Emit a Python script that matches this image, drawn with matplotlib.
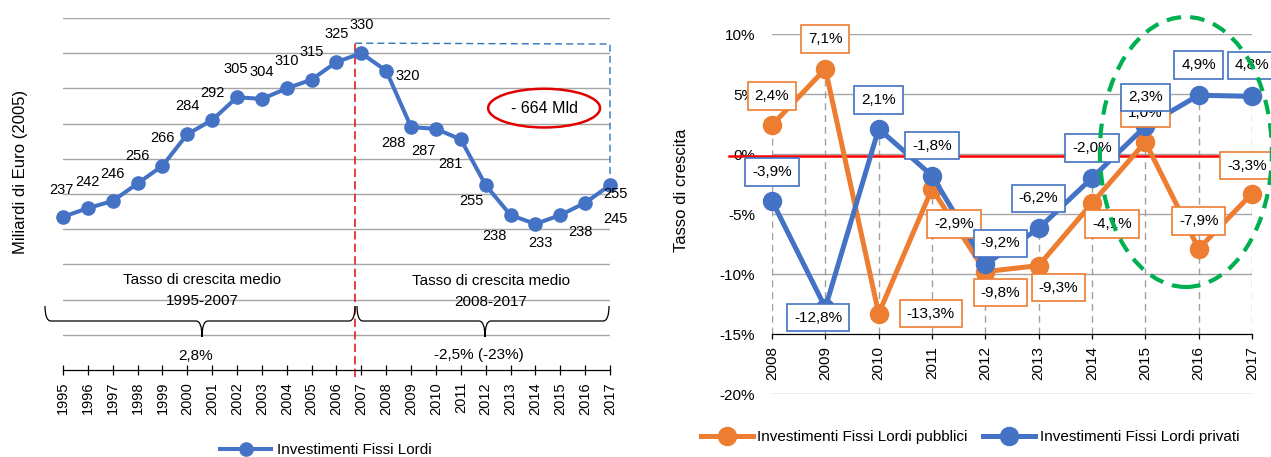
import matplotlib
matplotlib.use('Agg')
import matplotlib.pyplot as plt
from matplotlib.patches import Ellipse, PathPatch
from matplotlib.path import Path
from matplotlib.lines import Line2D
from matplotlib import font_manager

names = {f.name for f in font_manager.fontManager.ttflist}
FONT = 'Liberation Sans' if 'Liberation Sans' in names else 'DejaVu Sans'
plt.rcParams['font.family'] = [FONT, 'DejaVu Sans']
if 'Liberation Sans Narrow' in names:
    NARROW = ['Liberation Sans Narrow', FONT, 'DejaVu Sans']
    K = 1.2
else:
    NARROW = [FONT, 'DejaVu Sans']
    K = 1.0

# ---------------- data ----------------
years_left = list(range(1995, 2018))
investimenti = [237, 242, 246, 256, 266, 284, 292, 305, 304, 310, 315, 325, 330,
                320, 288, 287, 281, 255, 238, 233, 238, 245, 255]
years_right = list(range(2008, 2018))
pubblici = [2.4, 7.1, -13.3, -2.9, -9.8, -9.3, -4.1, 1.0, -7.9, -3.3]
privati = [-3.9, -12.8, 2.1, -1.8, -9.2, -6.2, -2.0, 2.3, 4.9, 4.8]
yticks_right = [10, 5, 0, -5, -10, -15, -20]
ytick_labels_right = ['10%', '5%', '0%', '-5%', '-10%', '-15%', '-20%']
label_left = 'Investimenti Fissi Lordi'
label_pub = 'Investimenti Fissi Lordi pubblici'
label_priv = 'Investimenti Fissi Lordi privati'

# ---------------- layout (label offsets in pixels, image y down) -------------
off_left = [(-2, -27), (0, -26), (0, -27), (0, -27), (0, -28), (0, -28), (0, -27),
            (-1, -28), (0, -27), (0, -27), (0, -28), (0, -28), (0, -28),
            (21, 5), (-18, 16), (-13, 22), (-10, 25), (-14, 16), (-16, 21),
            (5, 19), (20, 17), (30, 16), (5, 9)]
off_pub = [(0, -29), (0, -30), (52, 0), (22, 35), (15, 21), (20, 22), (20, 21),
           (0, -29), (0, -28), (-5, -28)]
off_priv = [(0, -29), (-7, 10), (0, -29), (0, -30), (15, -21), (0, -30), (0, -30),
            (0, -29), (0, -30), (0, -31)]

BLUE = '#4472C4'
ORANGE = '#ED7D31'
GRID = '#a6a6a6'

W, H = 1271, 457
fig = plt.figure(figsize=(W / 100, H / 100), dpi=100)


def fmt_pct(v):
    return ('%.1f%%' % v).replace('.', ',')


# ================= LEFT CHART =================
axL = fig.add_axes([63 / W, 1 - 370 / H, 547 / W, 352 / H])
axL.set_xlim(1995, 2017)
axL.set_ylim(150, 350)
for v in range(170, 351, 20):
    axL.axhline(v, color=GRID, lw=1.0, zorder=0)
axL.plot(years_left, investimenti, color=BLUE, lw=2.9, marker='o', ms=9.5,
         zorder=3, clip_on=False)
for sp in ['left', 'top', 'right']:
    axL.spines[sp].set_visible(False)
axL.spines['bottom'].set_color('black')
axL.spines['bottom'].set_linewidth(0.9)
axL.set_yticks([])
axL.set_xticks(years_left)
axL.set_xticklabels([str(y) for y in years_left], rotation=90,
                    fontsize=10.5 * K, family=NARROW)
axL.tick_params(axis='x', direction='inout', length=7.2, width=0.9, pad=5)

for x, v, (dx, dy) in zip(years_left, investimenti, off_left):
    axL.annotate(str(v), (x, v), xytext=(dx, -dy), textcoords='offset pixels',
                 ha='center', va='center', fontsize=10.5 * K, family=NARROW,
                 zorder=5)

# red dashed divider and blue dashed bracket
axL.plot([2006.75, 2006.75], [146, 335.7], color='#e02020', lw=1.2,
         ls=(0, (5, 2.5)), clip_on=False, zorder=2)
axL.plot([2006.75, 2017, 2017], [335.7, 335.2, 259], color='#2e75b6', lw=1.0,
         ls=(0, (5, 3)), clip_on=False, zorder=2)
axL.add_patch(Ellipse((2014.35, 298.8), 4.5, 22, fill=False, ec='#e00000',
                      lw=1.8, zorder=4))
axL.text(2014.35, 298.8, '- 664 Mld', ha='center', va='center', fontsize=11.5,
         zorder=5)

# ================= RIGHT CHART =================
axR = fig.add_axes([772 / W, 1 - 394 / H, 480 / W, 360 / H])
axR.set_xlim(2008, 2017)
axR.set_ylim(-20, 10)
for v in [10, 5, 0, -5, -10, -20]:
    axR.axhline(v, color=GRID, lw=1.0, zorder=0)
for sp in ['left', 'top', 'right']:
    axR.spines[sp].set_visible(False)
axR.spines['bottom'].set_position(('data', -15))
axR.spines['bottom'].set_color('black')
axR.spines['bottom'].set_linewidth(0.9)
axR.set_xticks(years_right)
axR.set_xticklabels([str(y) for y in years_right], rotation=90,
                    fontsize=11 * K, family=NARROW)
axR.tick_params(axis='x', direction='out', length=3.5, width=0.9, pad=5)
axR.set_yticks(yticks_right)
axR.set_yticklabels(ytick_labels_right, fontsize=11 * K, family=NARROW)
axR.tick_params(axis='y', length=0, pad=12)

tops = [max(a, b) for a, b in zip(pubblici, privati)]
axR.vlines(years_right, -15, tops, colors='#a0a0a0', lw=1.0,
           linestyles=(0, (5, 3.5)), zorder=1)
axR.plot([2007.19, 2017.09], [-0.15, -0.15], color='#ff0000', lw=1.8,
         clip_on=False, zorder=2)

axR.plot(years_right, pubblici, color=ORANGE, lw=3.6, marker='o', ms=13,
         zorder=3, clip_on=False)
axR.plot(years_right, privati, color=BLUE, lw=3.6, marker='o', ms=13,
         zorder=4, clip_on=False)

pad = 0.45 / K
for x, v, (dx, dy) in zip(years_right, pubblici, off_pub):
    axR.annotate(fmt_pct(v), (x, v), xytext=(dx, -dy), textcoords='offset pixels',
                 ha='center', va='center', fontsize=11 * K, family=NARROW,
                 zorder=5,
                 bbox=dict(boxstyle='square,pad=%.3f' % pad, fc='white',
                           ec=ORANGE, lw=1.2))
for x, v, (dx, dy) in zip(years_right, privati, off_priv):
    axR.annotate(fmt_pct(v), (x, v), xytext=(dx, -dy), textcoords='offset pixels',
                 ha='center', va='center', fontsize=11 * K, family=NARROW,
                 zorder=6,
                 bbox=dict(boxstyle='square,pad=%.3f' % pad, fc='white',
                           ec=BLUE, lw=1.2))

axR.add_patch(Ellipse((2015.76, 0.17), 3.225, 22.5, fill=False, ec='#00b050',
                      lw=3.0, ls=(0, (3.5, 2.2)), zorder=7, clip_on=False))

# ================= overlay (pixel coords) for annotations =================
ov = fig.add_axes([0, 0, 1, 1], zorder=10)
ov.set_xlim(0, W)
ov.set_ylim(H, 0)
ov.axis('off')
ov.patch.set_alpha(0)


def brace(x0, x1, xt, ytop, ymid, ytip, r=6):
    verts = [(x0, ytop), (x0, ymid), (x0 + r, ymid),
             (xt - r, ymid), (xt, ymid), (xt, ytip),
             (xt, ymid), (xt + r, ymid),
             (x1 - r, ymid), (x1, ymid), (x1, ytop)]
    codes = [Path.MOVETO, Path.CURVE3, Path.CURVE3,
             Path.LINETO, Path.CURVE3, Path.CURVE3,
             Path.CURVE3, Path.CURVE3,
             Path.LINETO, Path.CURVE3, Path.CURVE3]
    ov.add_patch(PathPatch(Path(verts, codes), fill=False, ec='black', lw=0.9))


brace(45, 355, 202, 306, 321, 337)
brace(357, 609, 485, 306, 321, 337)

tk = dict(ha='center', va='center', fontsize=11 * K, family=NARROW)
ov.text(202, 280, 'Tasso di crescita medio', **tk)
ov.text(202, 301, '1995-2007', **tk)
ov.text(491, 281, 'Tasso di crescita medio', **tk)
ov.text(491, 302, '2008-2017', **tk)
ov.text(196, 356, '2,8%', **tk)
ov.text(479, 355, '-2,5% (-23%)', **tk)

fig.text(21 / W, 1 - 172 / H, 'Miliardi di Euro (2005)', rotation=90,
         ha='center', va='center', fontsize=12)
fig.text(681 / W, 1 - 190 / H, 'Tasso di crescita', rotation=90,
         ha='center', va='center', fontsize=12)

# legends
hL = [Line2D([], [], color=BLUE, lw=2.9, marker='o', ms=9.5)]
fig.legend(hL, [label_left], loc='center', bbox_to_anchor=(326 / W, 1 - 450 / H),
           frameon=False, prop=dict(family=NARROW, size=11 * K),
           handlelength=3.3 / K, handletextpad=0.4 / K,
           borderpad=0, borderaxespad=0)
hR = [Line2D([], [], color=ORANGE, lw=3.6, marker='o', ms=13),
      Line2D([], [], color=BLUE, lw=3.6, marker='o', ms=13)]
fig.legend(hR, [label_pub, label_priv], loc='center', ncol=2,
           bbox_to_anchor=(970 / W, 1 - 437 / H), frameon=False,
           prop=dict(family=NARROW, size=11 * K),
           handlelength=3.4 / K, handletextpad=0.3 / K, columnspacing=1.0 / K,
           borderpad=0, borderaxespad=0)

fig.savefig('out.png', dpi=100)
